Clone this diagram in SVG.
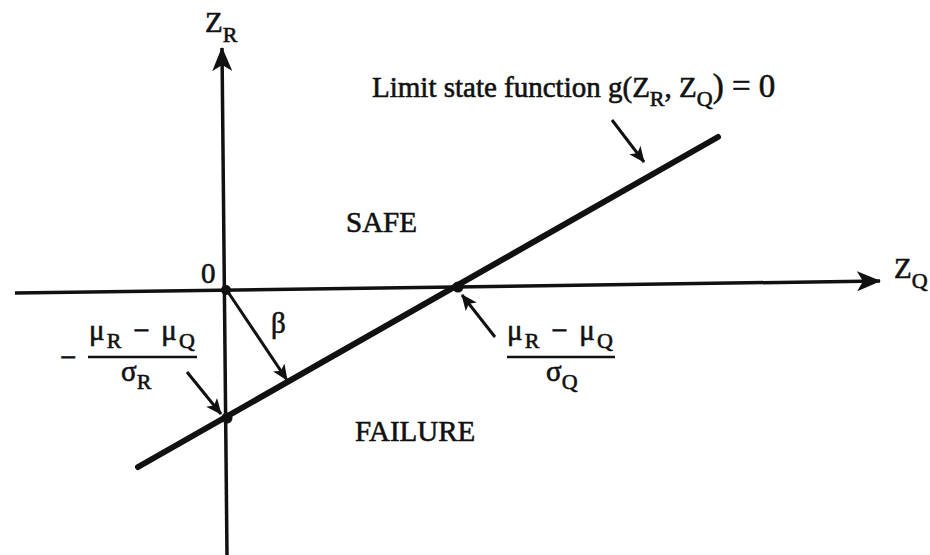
<svg xmlns="http://www.w3.org/2000/svg" width="930" height="555" viewBox="0 0 930 555">
<style>
text{font-family:"Liberation Serif","DejaVu Serif",serif;fill:#111;stroke:#111;stroke-width:0.6;}
.t{font-size:29px;}
.s{font-size:22px;}
.b{font-size:33px;}
.ax{stroke:#111;stroke-width:3.5;fill:none;}
.ls{stroke:#111;stroke-width:6;fill:none;stroke-linecap:round;}
.ar{stroke:#111;stroke-width:3;fill:none;}
.fl{stroke:#111;stroke-width:2.5;}
</style>
<defs>
<marker id="ah" markerWidth="16" markerHeight="14" refX="15" refY="7" orient="auto" markerUnits="userSpaceOnUse" viewBox="0 0 16 14">
<path d="M0,0 L16,7 L0,14 L4,7 z" fill="#111"/>
</marker>
<marker id="big" markerWidth="24" markerHeight="20" refX="23" refY="10" orient="auto" markerUnits="userSpaceOnUse" viewBox="0 0 24 20">
<path d="M0,0 L24,10 L0,20 L6,10 z" fill="#111"/>
</marker>
</defs>
<g id="connectors">
<line class="ax" x1="227" y1="555" x2="222" y2="48" marker-end="url(#big)"/>
<line class="ax" x1="15" y1="293" x2="880" y2="281" marker-end="url(#big)"/>
<line id="limit-line" class="ls" x1="138" y1="467" x2="718" y2="137"/>
<line class="ar" x1="228" y1="292" x2="287" y2="380" marker-end="url(#ah)"/>
<line class="ar" x1="612" y1="120" x2="644" y2="162" marker-end="url(#ah)"/>
<line class="ar" x1="187" y1="372" x2="221" y2="414" marker-end="url(#ah)"/>
<line class="ar" x1="495" y1="337" x2="462" y2="295" marker-end="url(#ah)"/>
</g>
<g id="points" fill="#111">
<circle cx="226" cy="290" r="5"/>
<circle cx="458" cy="287" r="5.5"/>
<circle cx="227" cy="418" r="5.5"/>
</g>
<g id="axis-zr"><text class="t" x="205" y="32">Z<tspan class="s" dy="10">R</tspan></text></g>
<g id="axis-zq"><text class="t" x="894" y="278">Z<tspan class="s" dy="10">Q</tspan></text></g>
<g id="origin"><text class="t" x="201" y="283">0</text></g>
<g id="limit-label"><text class="t" x="372" y="97">Limit state function g(Z<tspan class="s" dy="9">R</tspan><tspan dy="-9">, Z</tspan><tspan class="s" dy="9">Q</tspan><tspan class="b" dy="-9">) = 0</tspan></text></g>
<g id="safe"><text class="t" x="346" y="232">SAFE</text></g>
<g id="failure"><text class="t" x="355" y="441">FAILURE</text></g>
<g id="beta"><text class="t" x="271" y="333">β</text></g>
<g id="left-intercept">
<text class="t" x="60" y="367">−</text>
<text class="t" x="89" y="340" textLength="106">μ<tspan class="s" dy="8">R</tspan><tspan dy="-8"> − μ</tspan><tspan class="s" dy="8">Q</tspan></text>
<line class="fl" x1="88" y1="357" x2="197" y2="357"/>
<text class="t" x="121" y="381">σ<tspan class="s" dy="8">R</tspan></text>
</g>
<g id="right-intercept">
<text class="t" x="507" y="340" textLength="106">μ<tspan class="s" dy="8">R</tspan><tspan dy="-8"> − μ</tspan><tspan class="s" dy="8">Q</tspan></text>
<line class="fl" x1="507" y1="357" x2="615" y2="357"/>
<text class="t" x="546" y="381">σ<tspan class="s" dy="8">Q</tspan></text>
</g>
</svg>
